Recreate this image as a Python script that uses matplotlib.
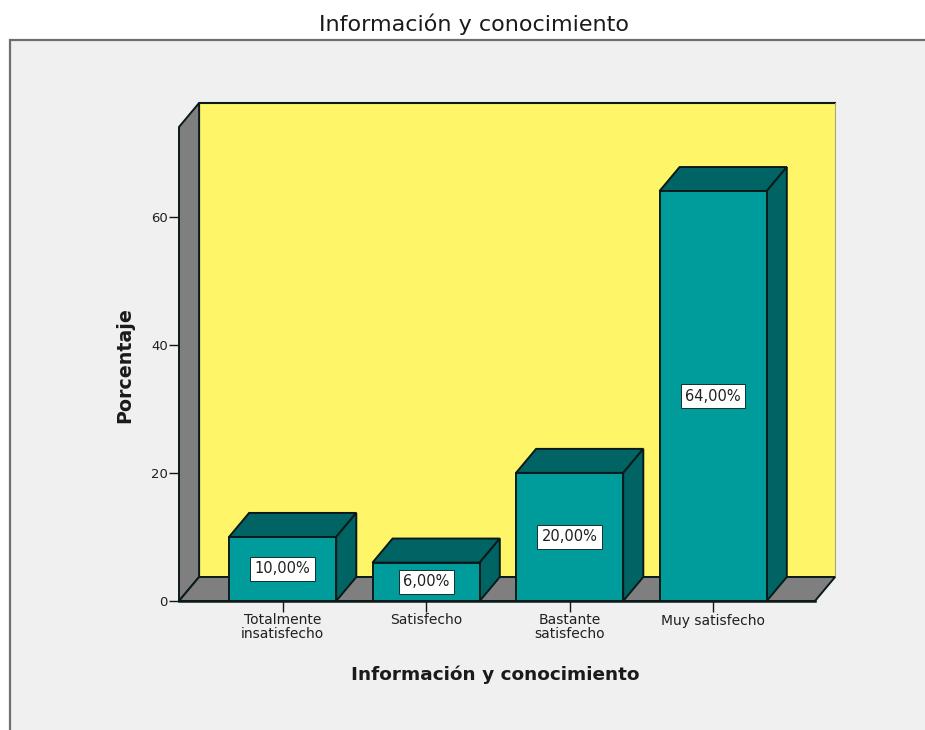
import matplotlib
matplotlib.use('Agg')
import matplotlib.pyplot as plt
from matplotlib.patches import Polygon, Rectangle

categorias = ['Totalmente\ninsatisfecho', 'Satisfecho', 'Bastante\nsatisfecho', 'Muy satisfecho']
porcentajes = [10.0, 6.0, 20.0, 64.0]
etiquetas = ['10,00%', '6,00%', '20,00%', '64,00%']
yticks = [0, 20, 40, 60]

TEAL = '#009c9c'
TEAL_OSCURO = '#006464'
AMARILLO = '#fff568'
GRIS = '#7f7f7f'
FONDO = '#f0f0f0'
NEGRO = '#0a1a1a'

# profundidad del efecto 3d, en unidades de datos
DX = 0.14
DY = 3.75
ANCHO = 0.747
XMIN, XMAX = -0.722, 3.71
YMAX = 74.0

plt.rcParams['font.family'] = ['DejaVu Sans']

fig = plt.figure(figsize=(9.25, 7.3), dpi=100, facecolor='white')

# panel gris de fondo con borde arriba y a la izquierda
fig.add_artist(Rectangle((9.5 / 925, -0.01), 1.0, 1 - 40 / 730 + 0.01, transform=fig.transFigure,
                         facecolor=FONDO, edgecolor='#6e6e6e', linewidth=1.6, zorder=-1))

ax = fig.add_axes([179 / 925, 1 - 601 / 730, 636 / 925, 474 / 730])
ax.set_xlim(XMIN, XMAX)
ax.set_ylim(0, YMAX)
ax.patch.set_visible(False)
for s in ax.spines.values():
    s.set_visible(False)


def poly(puntos, color, z, lw=1.4):
    ax.add_patch(Polygon(puntos, closed=True, facecolor=color, edgecolor=NEGRO, linewidth=lw,
                         joinstyle='miter', clip_on=False, zorder=z))


# paredes y suelo
ax.add_patch(Polygon([(XMIN + DX, DY), (XMAX + DX, DY), (XMAX + DX, YMAX + DY), (XMIN + DX, YMAX + DY)],
                     closed=True, facecolor=AMARILLO, edgecolor='none', clip_on=False, zorder=1))
ax.plot([XMIN + DX, XMIN + DX, XMAX + DX], [DY, YMAX + DY, YMAX + DY], color=NEGRO, lw=1.5,
        clip_on=False, zorder=2)
ax.plot([XMAX + DX, XMAX + DX], [DY, YMAX + DY], color='#a8a878', lw=0.8, clip_on=False, zorder=2)
poly([(XMIN, 0), (XMIN + DX, DY), (XMIN + DX, YMAX + DY), (XMIN, YMAX)], GRIS, 2)
poly([(XMIN, 0), (XMAX, 0), (XMAX + DX, DY), (XMIN + DX, DY)], GRIS, 2)

# barras
for i, (valor, txt) in enumerate(zip(porcentajes, etiquetas)):
    x0 = i - ANCHO / 2
    x1 = i + ANCHO / 2
    poly([(x0, valor), (x1, valor), (x1 + DX, valor + DY), (x0 + DX, valor + DY)], TEAL_OSCURO, 3)
    poly([(x1, 0), (x1 + DX, DY), (x1 + DX, valor + DY), (x1, valor)], TEAL_OSCURO, 3)
    poly([(x0, 0), (x1, 0), (x1, valor), (x0, valor)], TEAL, 4)
    ax.text(i, valor / 2, txt, ha='center', va='center', fontsize=10.5, color='#202020', zorder=6,
            bbox=dict(boxstyle='square,pad=0.3', facecolor='white', edgecolor='#103030', linewidth=0.7))

ax.plot([XMIN, XMAX], [0, 0], color=NEGRO, lw=1.8, clip_on=False, zorder=5)

ax.set_xticks(range(len(categorias)))
ax.set_xticklabels(categorias, fontsize=10, linespacing=0.95, color='#202020')
ax.set_yticks(yticks)
ax.set_yticklabels([str(v) for v in yticks], fontsize=9.5, color='#202020')
ax.tick_params(axis='x', length=8, width=1, color=NEGRO, pad=1)
ax.tick_params(axis='y', length=7, width=1, color=NEGRO, pad=1)

fig.text(474 / 925, 1 - 24 / 730, 'Información y conocimiento', ha='center', va='center',
         fontsize=16, color='#1a1a1a')
fig.text(495 / 925, 1 - 675 / 730, 'Información y conocimiento', ha='center', va='center',
         fontsize=13.3, color='#1a1a1a', fontweight='bold')
fig.text(125 / 925, 1 - 365 / 730, 'Porcentaje', ha='center', va='center', rotation=90,
         fontsize=13.7, color='#1a1a1a', fontweight='bold')

fig.savefig('out.png', dpi=100)
